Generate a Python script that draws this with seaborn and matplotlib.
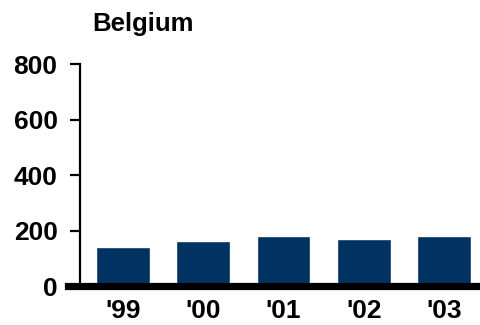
import matplotlib
matplotlib.use("Agg")
import matplotlib.pyplot as plt
import seaborn as sns
import pandas as pd

# Annual values for Belgium
years = ["'99", "'00", "'01", "'02", "'03"]
values = [142, 163, 182, 170, 182]
y_ticks = [0, 200, 400, 600, 800]

bar_color = "#003262"

sns.set_theme(style="white")
plt.rcParams["font.family"] = ["Liberation Sans", "DejaVu Sans"]
plt.rcParams["font.weight"] = "bold"

df = pd.DataFrame({"year": years, "value": values})

fig = plt.figure(figsize=(4.81, 3.25), dpi=100)
ax = fig.add_axes([0.141, 0.12, 0.859, 0.683])

sns.barplot(data=df, x="year", y="value", order=years, color=bar_color,
            saturation=1, width=0.67, ax=ax, zorder=2)

ax.set_xlim(-0.685, 4.46)
ax.set_ylim(0, 800)
ax.set_yticks(y_ticks)
ax.set_yticklabels([str(t) for t in y_ticks])
ax.set_xlabel("")
ax.set_ylabel("")

for s in ["top", "right"]:
    ax.spines[s].set_visible(False)
ax.spines["left"].set_position(("data", -0.536))
ax.spines["left"].set_linewidth(1.6)
ax.spines["left"].set_color("black")
ax.spines["bottom"].set_linewidth(5.2)
ax.spines["bottom"].set_color("black")
ax.spines["bottom"].set_zorder(3)

ax.tick_params(axis="y", direction="out", length=7.5, width=1.6, color="black",
               pad=8.5, labelsize=19, labelcolor="black", left=True)
ax.tick_params(axis="x", length=0, pad=9, labelsize=19, labelcolor="black")
for lab in ax.get_xticklabels() + ax.get_yticklabels():
    lab.set_fontweight("bold")

fig.text(0.191, 0.905, "Belgium", fontsize=18.5, fontweight="bold",
         ha="left", va="baseline", color="black")

fig.savefig("out.png", dpi=100)
